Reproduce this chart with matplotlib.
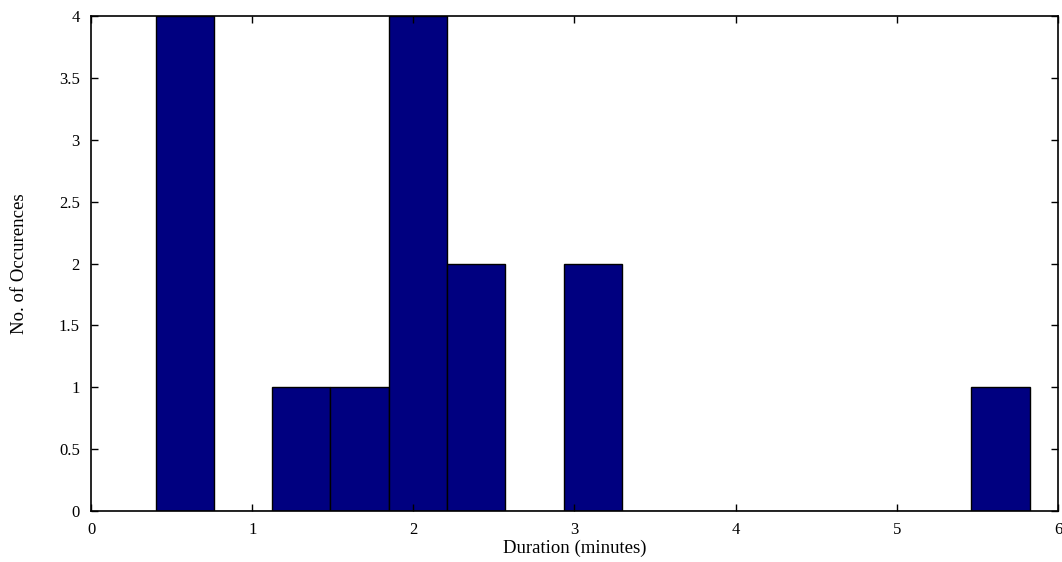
import matplotlib
matplotlib.use('Agg')
import matplotlib.pyplot as plt
import numpy as np

# histogram of event durations, 15 equal bins
bin_start = 0.401
bin_width = 0.3616
counts = [4, 0, 1, 1, 4, 2, 0, 2, 0, 0, 0, 0, 0, 0, 1]
xticks = [0, 1, 2, 3, 4, 5, 6]
yticks = [0, 0.5, 1, 1.5, 2, 2.5, 3, 3.5, 4]
ytick_labels = ['0', '0.5', '1', '1.5', '2', '2.5', '3', '3.5', '4']

plt.rcParams['font.family'] = ['Liberation Serif', 'DejaVu Serif']

fig = plt.figure(figsize=(10.62, 5.62), dpi=100)
ax = fig.add_axes([0.0857, 0.0907, 0.9105, 0.8808])

lefts = bin_start + bin_width * np.arange(len(counts))
ax.bar(lefts, counts, width=bin_width, align='edge',
       color='#000080', edgecolor='black', linewidth=1.0)

ax.set_xlim(0, 6)
ax.set_ylim(0, 4)
ax.set_xticks(xticks)
ax.set_yticks(yticks)
ax.set_yticklabels(ytick_labels)
ax.tick_params(direction='in', length=5, width=1, top=True, right=True,
               labelsize=12, pad=8)
for s in ax.spines.values():
    s.set_linewidth(1.2)

ax.set_xlabel('Duration (minutes)', fontsize=13.5, labelpad=1)
ax.set_ylabel('No. of Occurences', fontsize=13.5, labelpad=22)

fig.savefig('out.png', dpi=100)
plt.close(fig)
